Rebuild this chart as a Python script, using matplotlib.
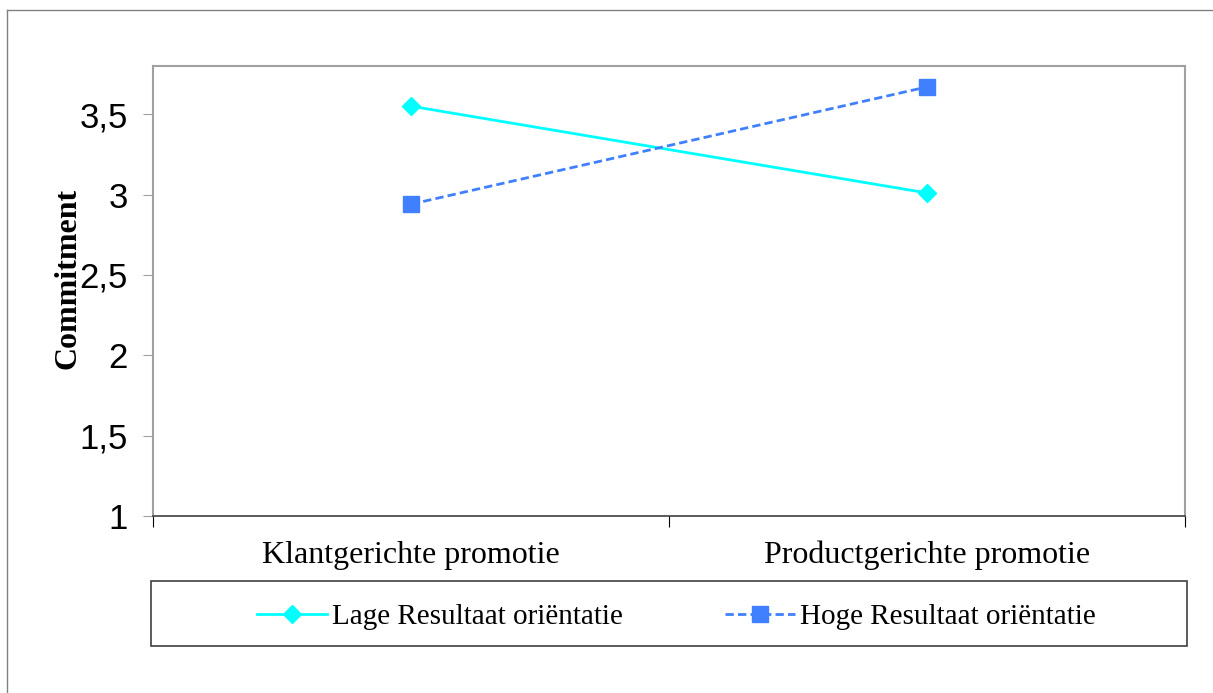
import matplotlib.pyplot as plt
from matplotlib.patches import Rectangle
from matplotlib.lines import Line2D

categories = ["Klantgerichte promotie", "Productgerichte promotie"]
series_names = ["Lage Resultaat oriëntatie", "Hoge Resultaat oriëntatie"]
lage = [3.55, 3.01]
hoge = [2.94, 3.67]
yticks = [1, 1.5, 2, 2.5, 3, 3.5]
ytick_labels = ["1", "1,5", "2", "2,5", "3", "3,5"]

cyan = "#00ffff"
blue = "#4080ff"
W, H = 1213, 693

fig = plt.figure(figsize=(W / 100, H / 100), dpi=100)
ax = fig.add_axes([153 / W, 1 - 516 / H, (1185 - 153) / W, (516 - 66) / H])

x = range(len(categories))
ax.plot(x, lage, color=cyan, lw=2, marker="D", ms=9, mec=cyan, label=series_names[0])
ax.plot(x, hoge, color=blue, lw=2, ls=(0, (3, 1.5)), marker="s", ms=11.5, mec=blue, label=series_names[1])

ax.set_xlim(-0.5, 1.5)
ax.set_ylim(1, 3.8)
ax.set_yticks(yticks)
ax.set_yticklabels(ytick_labels, fontfamily="Liberation Sans", fontsize=25)
ax.tick_params(axis="y", direction="out", length=7, color="#a0a0a0", pad=11)

# category labels between boundary ticks
ax.set_xticks([-0.5, 0.5, 1.5])
ax.set_xticklabels([])
ax.set_xticks([0, 1], minor=True)
ax.set_xticklabels(categories, minor=True, fontfamily="Liberation Serif", fontsize=23)
ax.tick_params(axis="x", which="major", direction="out", length=8, color="black")
ax.tick_params(axis="x", which="minor", length=0, pad=18)

for s in ["left", "top", "right"]:
    ax.spines[s].set_color("#a0a0a0")
    ax.spines[s].set_linewidth(1.5)
ax.spines["bottom"].set_color("#404040")
ax.spines["bottom"].set_linewidth(1.2)

ax.set_ylabel("Commitment", fontfamily="Liberation Serif", fontweight="bold", fontsize=23)
ax.yaxis.set_label_coords(-0.068, 0.527)

# legend box
fig.patches.append(Rectangle((151 / W, 1 - 646 / H), 1036 / W, 65 / H, transform=fig.transFigure,
                             fill=False, edgecolor="#404040", lw=1.2))
handles, labels = ax.get_legend_handles_labels()
fig.legend(handles, labels, loc="center", bbox_to_anchor=(676 / W, 1 - 617 / H), ncol=2,
           frameon=False, prop={"family": "Liberation Serif", "size": 21},
           handlelength=2.4, handletextpad=0.17, columnspacing=3.5)

# outer frame (left and top edges)
fig.lines.append(Line2D([7 / W, 7 / W], [0, 1 - 10 / H], transform=fig.transFigure, color="#808080", lw=1))
fig.lines.append(Line2D([7 / W, 1], [1 - 10 / H, 1 - 10 / H], transform=fig.transFigure, color="#808080", lw=1))

fig.savefig("out.png", dpi=100)
